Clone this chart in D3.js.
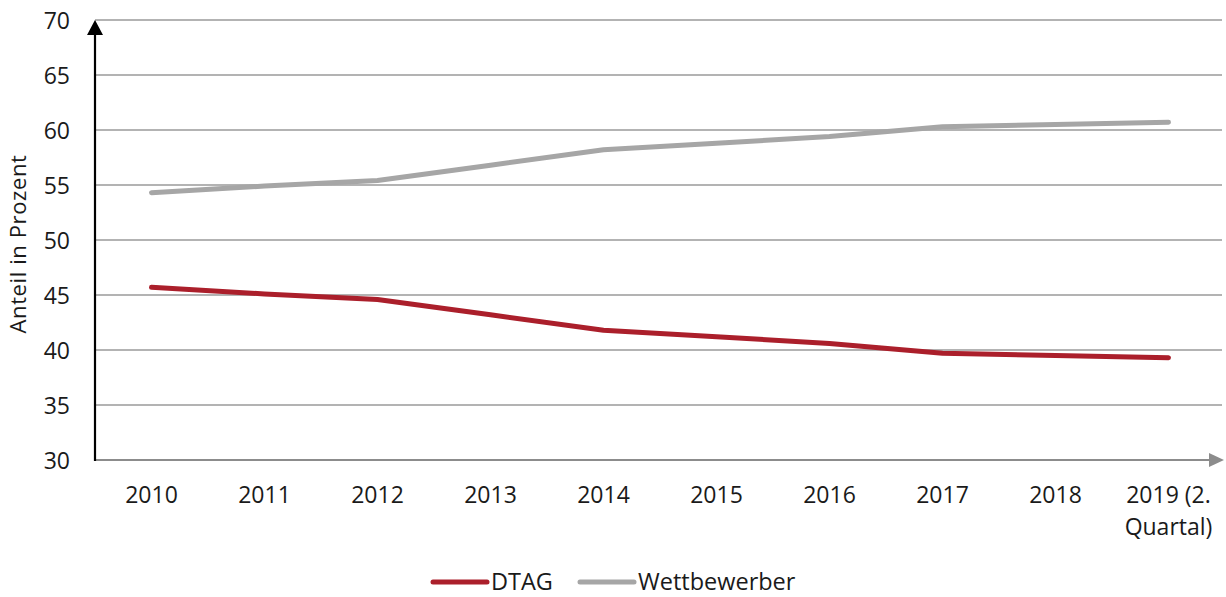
<!DOCTYPE html>
<html>
<head>
<meta charset="utf-8">
<script src="https://cdn.jsdelivr.net/npm/d3@7"></script>
<style>
  body { margin: 0; background: #fff; }
  text { font-family: "Open Sans", "Noto Sans", sans-serif; font-weight: 400; fill: #1a1a1a; }
</style>
</head>
<body>
<svg id="chart" width="1226" height="597"></svg>
<script>
const years = ['2010', '2011', '2012', '2013', '2014', '2015', '2016', '2017', '2018', '2019 (2. Quartal)']
const dtag = [45.7, 45.1, 44.6, 43.2, 41.8, 41.2, 40.6, 39.7, 39.5, 39.3]
const wettbewerber = [54.3, 54.9, 55.4, 56.8, 58.2, 58.8, 59.4, 60.3, 60.5, 60.7]
const yTicks = [30, 35, 40, 45, 50, 55, 60, 65, 70]
const seriesNames = ['DTAG', 'Wettbewerber']
const seriesColors = ['#ab1f2b', '#a6a6a6']

const svg = d3.select('#chart')
const margin = {left: 95, top: 20, right: 1225, bottom: 460}

const x = d3.scaleBand().domain(years).range([margin.left, margin.right])
const y = d3.scaleLinear().domain([30, 70]).range([margin.bottom, margin.top])

// gridlines
svg.append('g').selectAll('line')
    .data(yTicks.slice(1))
    .join('line')
    .attr('x1', margin.left).attr('x2', 1222)
    .attr('y1', d => y(d)).attr('y2', d => y(d))
    .style('stroke', '#9a9a9a').style('stroke-width', 1.6)

// y tick labels
svg.append('g').selectAll('text')
    .data(yTicks)
    .join('text')
    .attr('x', 70).attr('y', d => y(d) + 8.5)
    .style('text-anchor', 'end')
    .style('font-size', '23px')
    .text(d => d)

// x axis with arrow
svg.append('line')
    .attr('x1', margin.left).attr('x2', 1210)
    .attr('y1', y(30)).attr('y2', y(30))
    .style('stroke', '#8c8c8c').style('stroke-width', 2.2)
svg.append('path')
    .attr('d', `M1209,${y(30) - 7}L1224,${y(30)}L1209,${y(30) + 7}Z`)
    .style('fill', '#8c8c8c')

// y axis with arrow
svg.append('line')
    .attr('x1', margin.left).attr('x2', margin.left)
    .attr('y1', y(30) + 1).attr('y2', margin.top + 12)
    .style('stroke', '#000').style('stroke-width', 2.2)
svg.append('path')
    .attr('d', `M${margin.left - 8},${margin.top + 15}L${margin.left},${margin.top}L${margin.left + 8},${margin.top + 15}Z`)
    .style('fill', '#000')

// x labels (wrapped)
const xl = svg.append('g').selectAll('text')
    .data(years)
    .join('text')
    .attr('x', d => x(d) + x.bandwidth() / 2)
    .attr('y', 503)
    .style('text-anchor', 'middle')
    .style('font-size', '23px')
xl.each(function(d) {
    const parts = d.includes('(') ? ['2019 (2.', 'Quartal)'] : [d]
    d3.select(this).selectAll('tspan')
        .data(parts)
        .join('tspan')
        .attr('x', x(d) + x.bandwidth() / 2)
        .attr('dy', (p, i) => i === 0 ? 0 : 32)
        .text(p => p)
})

// y axis title
svg.append('text')
    .attr('transform', `translate(26, 244)rotate(-90)`)
    .style('text-anchor', 'middle')
    .style('font-size', '22px')
    .style('letter-spacing', '0.6px')
    .text('Anteil in Prozent')

// lines
const line = d3.line()
    .x((d, i) => x(years[i]) + x.bandwidth() / 2)
    .y(d => y(d))

svg.append('g').selectAll('path')
    .data([dtag, wettbewerber])
    .join('path')
    .attr('d', line)
    .style('fill', 'none')
    .style('stroke', (d, i) => seriesColors[i])
    .style('stroke-width', 5)
    .style('stroke-linecap', 'round')
    .style('stroke-linejoin', 'round')

// legend
const legendX = [433, 580]
const lg = svg.append('g').selectAll('g')
    .data(seriesNames)
    .join('g')
    .attr('transform', (d, i) => `translate(${legendX[i]}, 582)`)
lg.append('line')
    .attr('x1', 0).attr('x2', 54)
    .style('stroke', (d, i) => seriesColors[i])
    .style('stroke-width', 5)
    .style('stroke-linecap', 'round')
lg.append('text')
    .attr('x', 58).attr('y', 8)
    .style('font-size', '23.5px')
    .text(d => d)
</script>
</body>
</html>
